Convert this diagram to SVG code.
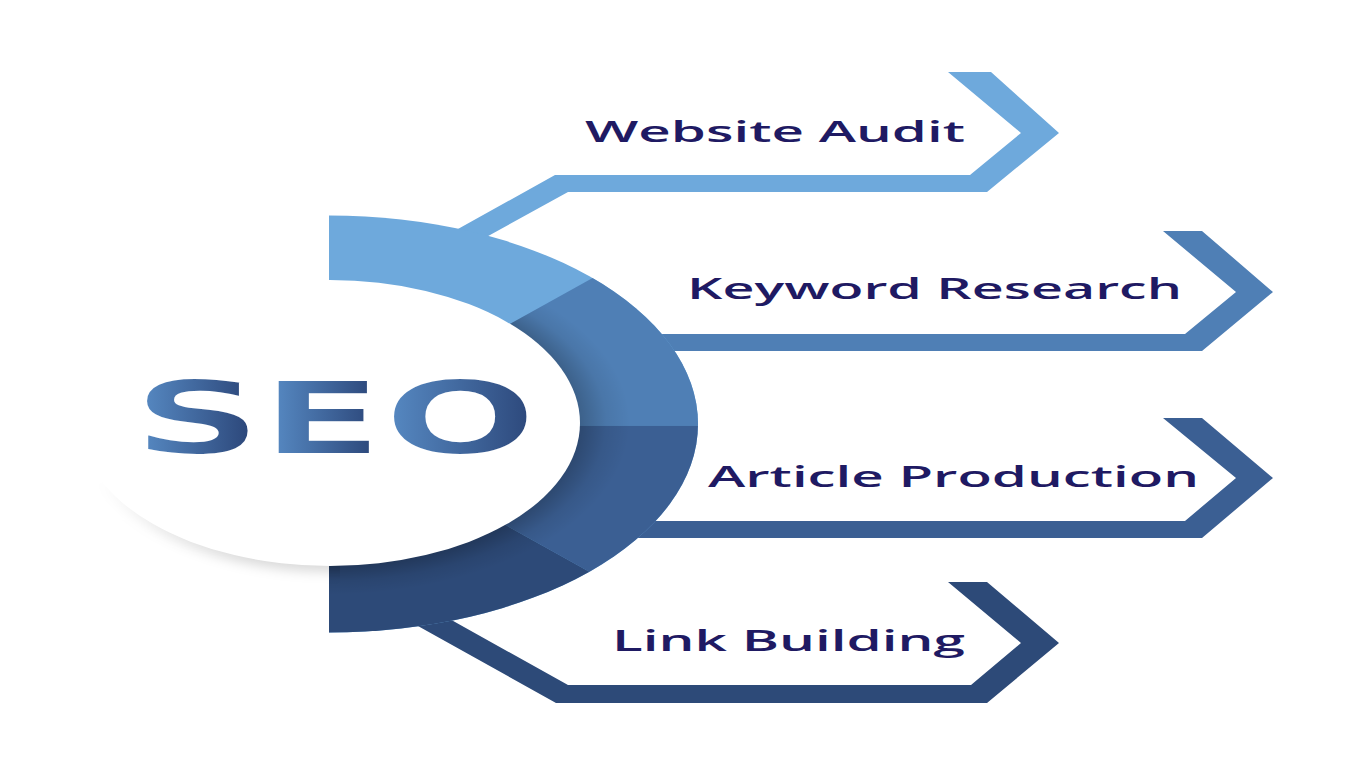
<svg xmlns="http://www.w3.org/2000/svg" width="1366" height="768" viewBox="0 0 1366 768">
  <defs>
    <style>
      .lbl { font-family: "Open Sans", "Liberation Sans", sans-serif; font-weight: 600; font-size: 29px; fill: #1F1A63; }
      .seo { font-family: "DejaVu Sans", "Liberation Sans", sans-serif; font-weight: 700; font-size: 101px; stroke: #FFFFFF; stroke-width: 2.2px; }
      .c1 { fill: #6EA9DC; }
      .c2 { fill: #4F7FB5; }
      .c3 { fill: #3B5F93; }
      .c4 { fill: #2D4A78; }
    </style>
    <clipPath id="halfRing">
      <path d="M329,215.5 A369,208.5 0 0 1 329,632.5 Z"/>
    </clipPath>
    <clipPath id="shadeZone">
      <polygon points="327,425.7 800,162.7 800,800 329,800"/>
    </clipPath>
    <linearGradient id="fadeGrad" gradientUnits="userSpaceOnUse" x1="0" y1="480" x2="0" y2="560">
      <stop offset="0" stop-color="#000"/>
      <stop offset="1" stop-color="#FFF"/>
    </linearGradient>
    <mask id="bottomMask" maskUnits="userSpaceOnUse" x="0" y="0" width="1366" height="768">
      <rect x="0" y="400" width="340" height="300" fill="url(#fadeGrad)"/>
    </mask>
    <radialGradient id="innerShade" cx="330" cy="423" r="300" gradientUnits="userSpaceOnUse" gradientTransform="translate(330 423) scale(1 0.573) translate(-330 -423)">
      <stop offset="0.80" stop-color="#000" stop-opacity="0.30"/>
      <stop offset="0.92" stop-color="#000" stop-opacity="0.07"/>
      <stop offset="1" stop-color="#000" stop-opacity="0"/>
    </radialGradient>
    <linearGradient id="seoGrad" gradientUnits="userSpaceOnUse" x1="80.6" y1="0" x2="296.1" y2="0">
      <stop offset="0" stop-color="#5587C0"/>
      <stop offset="0.27" stop-color="#2C477A"/>
      <stop offset="0.27" stop-color="#5587C0"/>
      <stop offset="0.338" stop-color="#5587C0"/>
      <stop offset="0.59" stop-color="#2C477A"/>
      <stop offset="0.59" stop-color="#5587C0"/>
      <stop offset="0.639" stop-color="#5587C0"/>
      <stop offset="1" stop-color="#2C477A"/>
    </linearGradient>
    <filter id="blur" x="-20%" y="-30%" width="140%" height="160%">
      <feGaussianBlur stdDeviation="6"/>
    </filter>
  </defs>

  <rect width="1366" height="768" fill="#FFFFFF"/>

  <g id="connectors">
    <polygon class="c1" points="440,239 555,175 970,175 1021,133 948,72 991,72 1059,133 987,192 568,192 470,246"/>
    <polygon class="c2" points="600,334 1185,334 1236,292 1163,231 1202,231 1273,292 1202,351 600,351"/>
    <polygon class="c3" points="600,521 1185,521 1236,478 1163,418 1202,418 1273,478 1202,538 600,538"/>
    <polygon class="c4" points="430,608 568,685 971,685 1021,643 948,582 987,582 1059,643 987,703 556,703 400,616"/>
  </g>

  <g id="ring">
    <g clip-path="url(#halfRing)">
      <rect class="c1" x="329" y="200" width="400" height="450"/>
      <polygon class="c2" points="327,425.7 800,162.7 800,425.7"/>
      <polygon class="c3" points="327,425.7 800,425.7 800,689"/>
      <polygon class="c4" points="327,425.7 800,689 800,800 329,800"/>
      <ellipse cx="330" cy="423" rx="300" ry="172" fill="url(#innerShade)" clip-path="url(#shadeZone)"/>
    </g>
  </g>

  <g id="node-seo">
    <g mask="url(#bottomMask)">
      <ellipse cx="332" cy="431" rx="246" ry="141" fill="#000" fill-opacity="0.15" filter="url(#blur)"/>
    </g>
    <ellipse cx="330" cy="423" rx="250" ry="143" fill="#FFFFFF"/>
    <text class="seo" transform="matrix(1.8 0 0 1 0 0)" x="73.4 144.4 212.8" y="454" fill="url(#seoGrad)">SEO</text>
  </g>

  <g id="node-website-audit">
    <text class="lbl" x="585" y="142" textLength="380" lengthAdjust="spacingAndGlyphs">Website Audit</text>
  </g>
  <g id="node-keyword-research">
    <text class="lbl" x="687" y="299" textLength="495" lengthAdjust="spacingAndGlyphs">Keyword Research</text>
  </g>
  <g id="node-article-production">
    <text class="lbl" x="708" y="487" textLength="491" lengthAdjust="spacingAndGlyphs">Article Production</text>
  </g>
  <g id="node-link-building">
    <text class="lbl" x="612" y="651" textLength="353" lengthAdjust="spacingAndGlyphs">Link Building</text>
  </g>
</svg>
